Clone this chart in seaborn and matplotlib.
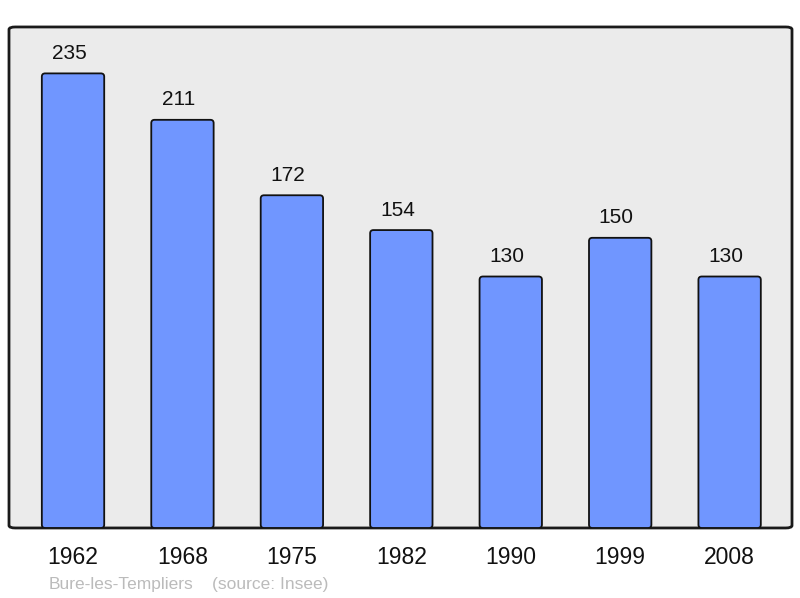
import matplotlib
matplotlib.use("Agg")
import matplotlib.pyplot as plt
from matplotlib.patches import FancyBboxPatch
from matplotlib.transforms import offset_copy
import seaborn as sns
import pandas as pd

# ---------------------------------------------------------
# DATA
# ---------------------------------------------------------
years = ["1962", "1968", "1975", "1982", "1990", "1999", "2008"]
population = [235, 211, 172, 154, 130, 150, 130]
commune = "Bure-les-Templiers"
source = "(source: Insee)"

df = pd.DataFrame({"year": years, "pop": population})

# ---------------------------------------------------------
# PLOT
# ---------------------------------------------------------
sns.set_theme(style="white")
plt.rcParams["font.family"] = ["Liberation Sans", "DejaVu Sans"]

fig = plt.figure(figsize=(8, 5.98), dpi=100)
ax = fig.add_axes([0.01125, 0.1171, 0.97875, 0.8378])

sns.barplot(data=df, x="year", y="pop", color="#7096FF", saturation=1,
            width=0.57, edgecolor="#111111", linewidth=1.3, ax=ax)

ax.set_ylim(0, 259)
ax.set_xlim(-0.585, 6.57)
ax.set_facecolor("none")
for s in ax.spines.values():
    s.set_visible(False)

# swap the square bars for slightly rounded ones (same geometry)
px_x = 0.97875 * 800 / (6.57 + 0.585)
px_y = 0.8378 * 598 / 259
for bar in list(ax.patches):
    rb = FancyBboxPatch((bar.get_x(), bar.get_y()), bar.get_width(), bar.get_height(),
                        boxstyle="round,pad=0,rounding_size=0.03",
                        mutation_aspect=px_x / px_y,
                        facecolor=bar.get_facecolor(), edgecolor=bar.get_edgecolor(),
                        linewidth=bar.get_linewidth(), zorder=bar.get_zorder())
    bar.remove()
    ax.add_patch(rb)

# rounded frame with grey background
frame = FancyBboxPatch((0, 0), 1, 1, boxstyle="round,pad=0,rounding_size=0.008",
                       transform=ax.transAxes, facecolor="#EBEBEB",
                       edgecolor="#1a1a1a", linewidth=2, zorder=-1,
                       clip_on=False, mutation_aspect=0.8378 * 5.98 / (0.97875 * 8))
ax.add_patch(frame)

# value labels sit a little left of the bar centre
lbl_tr = offset_copy(ax.transData, fig=fig, x=-4, y=0, units="dots")
for i, v in enumerate(population):
    ax.text(i, v + 7.5, str(v), ha="center", va="baseline", fontsize=15,
            color="#111111", transform=lbl_tr)

ax.set_xlabel("")
ax.set_ylabel("")
ax.set_yticks([])
ax.tick_params(axis="x", length=0, pad=13, labelsize=16.5, labelcolor="#111111")

fig.text(49 / 800, 1 - 584 / 598, commune, fontsize=12.5, color="#BBBBBB", va="center")
fig.text(212 / 800, 1 - 584 / 598, source, fontsize=12.5, color="#BBBBBB", va="center")

fig.savefig("out.png", dpi=100)
